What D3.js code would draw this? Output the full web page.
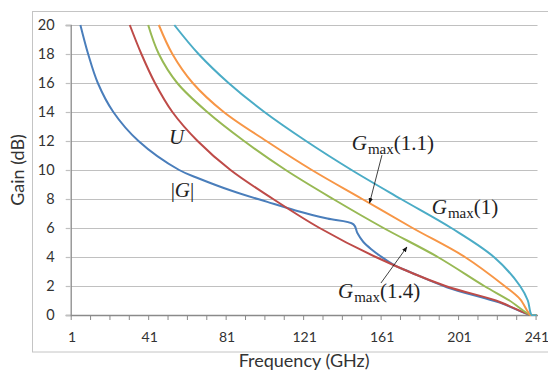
<!DOCTYPE html>
<html>
<head>
<meta charset="utf-8">
<script src="https://cdn.jsdelivr.net/npm/d3@7"></script>
<style>
  body { margin: 0; background: #fff; }
  svg { display: block; }
</style>
</head>
<body>
<div id="chart"></div>
<script>
// values: frequency (GHz) vs gain (dB)
var gFreq = [5.5, 9.5, 14.5, 22.5, 35.5, 56.5, 67, 84, 102, 119, 133, 146.5, 148.5, 151.5, 156, 160, 168, 175, 195, 222, 238, 241];
var gGain = [20, 18, 16, 14, 12, 10, 9.4, 8.55, 7.8, 7.12, 6.65, 6.25, 5.65, 5.05, 4.5, 4.1, 3.4, 3.0, 1.9, 0.85, 0, 0];

var uFreq = [31, 37, 44, 53, 66, 83, 105, 129, 158, 194, 220, 238, 241];
var uGain = [20, 18, 16, 14, 12, 10, 8, 6, 4, 2, 1, 0, 0];

var g14Freq = [40.5, 46, 55.5, 71, 90, 111.5, 136, 162, 190, 214, 227, 238, 241];
var g14Gain = [20, 18, 16, 14, 12, 10, 8, 6, 4, 2, 1, 0, 0];

var g11Freq = [46, 53, 63.5, 79.5, 101.5, 125, 151, 177, 204, 224.5, 232.5, 238, 241];
var g11Gain = [20, 18, 16, 14, 12, 10, 8, 6, 4, 2, 1.1, 0, 0];

var g1Freq = [54, 66.5, 82, 100.5, 122, 145.5, 171, 197, 219, 232.5, 236.5, 238.5, 241];
var g1Gain = [20, 18, 16, 14, 12, 10, 8, 6, 4, 2, 1, 0, 0];

var xTickLabels = [1, 41, 81, 121, 161, 201, 241];
var yTicks = [0, 2, 4, 6, 8, 10, 12, 14, 16, 18, 20];

var series = [
  { name: "|G|", freq: gFreq, gain: gGain, color: "#4a7ebb" },
  { name: "U", freq: uFreq, gain: uGain, color: "#be4b48" },
  { name: "Gmax(1.4)", freq: g14Freq, gain: g14Gain, color: "#98b954" },
  { name: "Gmax(1.1)", freq: g11Freq, gain: g11Gain, color: "#f79646" },
  { name: "Gmax(1)", freq: g1Freq, gain: g1Gain, color: "#4bacc6" }
];

var width = 548, height = 371;
var margin = { left: 70.7, right: 10.5, top: 25, bottom: 56 };

var svg = d3.select("#chart").append("svg")
    .attr("width", width)
    .attr("height", height);

// outer chart border (right side runs off the picture)
svg.append("rect")
    .attr("x", 32.5).attr("y", 11.5)
    .attr("width", 540).attr("height", 340.5)
    .style("fill", "none")
    .style("stroke", "#c4c4c4")
    .style("stroke-width", 1);

// category axis: 241 categories, centred between boundaries
var xScale = d3.scaleLinear()
    .domain([0.5, 241.5])
    .range([margin.left, width - margin.right]);

var yScale = d3.scaleLinear()
    .domain([0, 20])
    .range([height - margin.bottom, margin.top]);

// horizontal gridlines
svg.append("g")
    .attr("class", "grid")
    .attr("transform", "translate(" + margin.left + ",0)")
    .call(d3.axisLeft(yScale).tickValues(yTicks.slice(1))
      .tickSize(-(xScale(241.5) - margin.left))
      .tickFormat(""))
    .call(function(g) { g.select(".domain").remove(); })
    .selectAll("line")
    .style("stroke", "#c0c0c0")
    .style("stroke-width", 1.2);

// y axis with short outer ticks
var yAxis = svg.append("g")
    .attr("class", "y axis")
    .attr("transform", "translate(" + margin.left + ",0)")
    .call(d3.axisLeft(yScale).tickValues(yTicks).tickSize(5).tickPadding(11));

yAxis.select(".domain").style("stroke", "#8a8a8a").style("stroke-width", 1.3);
yAxis.selectAll(".tick line").style("stroke", "#c0c0c0").style("stroke-width", 1.2);
yAxis.selectAll("text")
    .style("font-family", "Lato, 'Open Sans', sans-serif")
    .style("font-size", "14.5px")
    .style("fill", "#333");

// x axis tick marks at every 10th category boundary
var tickBounds = d3.range(0.5, 241, 10);
var xAxis = svg.append("g")
    .attr("class", "x axis")
    .attr("transform", "translate(0," + yScale(0) + ")")
    .call(d3.axisBottom(xScale).tickValues(tickBounds).tickSizeInner(5).tickSizeOuter(0).tickFormat(""));

xAxis.select(".domain").style("stroke", "#8a8a8a").style("stroke-width", 1.3);
xAxis.selectAll(".tick line").style("stroke", "#8a8a8a");

// x tick labels at category centres
var xLabels = svg.append("g")
    .attr("transform", "translate(0," + yScale(0) + ")")
    .call(d3.axisBottom(xScale).tickValues(xTickLabels).tickSize(0).tickPadding(17).tickFormat(d3.format("d")));
xLabels.select(".domain").remove();
xLabels.selectAll("text")
    .style("font-family", "Lato, 'Open Sans', sans-serif")
    .style("font-size", "14px")
    .style("fill", "#333");
// last label sits against the right edge of the picture
xLabels.selectAll("text").filter(function(d) { return d == 241; })
    .attr("text-anchor", "end")
    .attr("dx", "12px");

// axis titles
svg.append("text")
    .attr("x", (xScale(0.5) + xScale(241.5)) / 2)
    .attr("y", 367)
    .attr("text-anchor", "middle")
    .style("font-family", "Lato, 'Open Sans', sans-serif")
    .style("font-size", "18px")
    .style("fill", "#333")
    .text("Frequency (GHz)");

svg.append("text")
    .attr("transform", "translate(24," + yScale(10) + ") rotate(-90)")
    .attr("text-anchor", "middle")
    .style("font-family", "Lato, 'Open Sans', sans-serif")
    .style("font-size", "18px")
    .style("fill", "#333")
    .text("Gain (dB)");

svg.append("clipPath").attr("id", "plot-clip")
  .append("rect")
    .attr("x", margin.left).attr("y", margin.top - 1)
    .attr("width", xScale(241.5) - margin.left)
    .attr("height", yScale(0) - margin.top + 2);

var line = d3.line()
    .x(function(d) { return xScale(d[0]); })
    .y(function(d) { return yScale(d[1]); })
    .curve(d3.curveCatmullRom.alpha(0.5));

svg.append("g")
    .attr("clip-path", "url(#plot-clip)")
  .selectAll(".series")
    .data(series)
   .enter()
    .append("path")
    .attr("class", "series")
    .attr("d", function(s) { return line(d3.zip(s.freq, s.gain)); })
    .style("fill", "none")
    .style("stroke", function(s) { return s.color; })
    .style("stroke-width", 2)
    .style("stroke-linejoin", "round");

// math-style annotations (anchor in data units)
var notes = [
  { parts: [["U", "i"]], f: 51.2, g: 11.8 },
  { parts: [["|", "n"], ["G", "i"], ["|", "n"]], f: 52.1, g: 8.14 },
  { parts: [["G", "i"], ["max", "s"], ["(1.1)", "n"]], f: 145.6, g: 11.38 },
  { parts: [["G", "i"], ["max", "s"], ["(1)", "n"]], f: 186.9, g: 6.97 },
  { parts: [["G", "i"], ["max", "s"], ["(1.4)", "n"]], f: 138.5, g: 1.17 }
];

notes.forEach(function(n) {
  var t = svg.append("text")
      .attr("x", xScale(n.f))
      .attr("y", yScale(n.g))
      .style("font-family", "'Liberation Serif', 'DejaVu Serif', serif")
      .style("font-size", "21px")
      .style("fill", "#222");
  var shifted = false;
  n.parts.forEach(function(p) {
    var ts = t.append("tspan").text(p[0]);
    if (p[1] == "i") ts.style("font-style", "italic");
    if (p[1] == "s") {
      ts.style("font-size", "15px").attr("dy", 4).attr("dx", 1);
      shifted = true;
    } else if (shifted) {
      ts.attr("dy", -4);
      shifted = false;
    }
  });
});

// leader arrows
svg.append("defs").append("marker")
    .attr("id", "arrow")
    .attr("viewBox", "0 0 10 10")
    .attr("refX", 9).attr("refY", 5)
    .attr("markerWidth", 7).attr("markerHeight", 7)
    .attr("orient", "auto")
  .append("path")
    .attr("d", "M0,1 L10,5 L0,9 Z")
    .style("fill", "#111");

var arrows = [
  { f0: 161.2, g0: 11.03, f1: 154.8, g1: 7.72 },
  { f0: 160.7, g0: 2.21, f1: 174.1, g1: 4.69 }
];

svg.selectAll(".leader")
    .data(arrows)
   .enter()
    .append("line")
    .attr("class", "leader")
    .attr("x1", function(d) { return xScale(d.f0); })
    .attr("y1", function(d) { return yScale(d.g0); })
    .attr("x2", function(d) { return xScale(d.f1); })
    .attr("y2", function(d) { return yScale(d.g1); })
    .style("stroke", "#111")
    .style("stroke-width", 0.8)
    .attr("marker-end", "url(#arrow)");
</script>
</body>
</html>
